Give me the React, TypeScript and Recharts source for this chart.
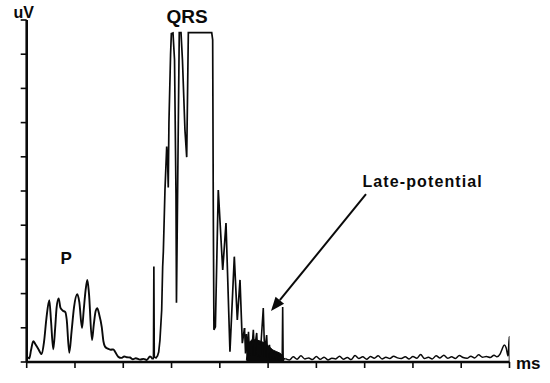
import React from 'react';
import { ComposedChart, Line, Area, XAxis, YAxis, ReferenceLine } from 'recharts';

type Pt = { t: number; v: number };
const toPts = (rows: number[][]): Pt[] => rows.map(([t, v]) => ({ t, v }));

// time in ms, amplitude in uV (arbitrary scale 0-100)
const xTicks = [0, 50, 100, 150, 200, 250, 300, 350, 400, 450, 500];
const yTicks = [0, 10, 20, 30, 40, 50, 60, 70, 80, 90, 100];

const pWave = toPts([
  [1.5, 1.5], [2.7, 1.0], [4.5, 3.5], [6.8, 6.1], [9, 5.2], [12, 3.8], [15.5, 2.3],
  [18, 6], [20.5, 13], [23.4, 18.1], [25.2, 12], [27.5, 3.7], [29.5, 10], [31, 16],
  [33.1, 18.6], [35, 15.8], [37.5, 15.0], [40, 14.6], [41.4, 12.5], [44.1, 2.7],
  [46.5, 9], [49, 16], [52.4, 19.8], [54.5, 17.5], [57.3, 9.9], [59, 15], [61, 21],
  [62.8, 24], [64.5, 20], [67.6, 6.4], [69.5, 11], [71.5, 15], [73.1, 15.7], [75, 14],
  [77.7, 10.3], [79.5, 6], [81.1, 4.5], [84, 3.9], [87, 3.6], [89.7, 3.7], [91.5, 3],
  [94.9, 1.5], [98, 1.2], [101, 1.6], [103.6, 1.4], [107, 1.3], [110, 0.8], [113, 1.1],
  [117.3, 0.7], [121, 0.9], [124.3, 0.6], [127.7, 1.6], [130.5, 0.8],
]);

const qrsComplex = toPts([
  [130.5, 0.8], [131.3, 1.2], [131.7, 27.9], [132.1, 1.5], [133.9, 1.2], [135.5, 1.8],
  [136.7, 2.9], [138.0, 6.4], [139.8, 15.2], [140.8, 27.8], [141.5, 32.2], [143.2, 50.3],
  [145.0, 63], [146.0, 58], [146.6, 51], [147.3, 70], [149.0, 90], [149.8, 96.0],
  [151.5, 96.2], [153.1, 88.3], [154.6, 49.4], [155.1, 17.3], [156.2, 47.4], [158.0, 96.3],
  [159.8, 96.3], [161.3, 88.3], [163.9, 67.8], [165.7, 59.9], [166.5, 76.6], [167.4, 96.3],
  [191.6, 96.3], [192.6, 94.2], [193.2, 47.4], [193.9, 9.4], [195.4, 10.3], [198.4, 50.3],
  [203.0, 26.9], [206.4, 40.6], [210.5, 3.0], [215.0, 30.8], [218.1, 12.3], [220.9, 24.0],
  [223.3, 5.5], [225.6, 9.9],
]);

const latePotential = toPts([
  [225.6, 9.9], [226.6, 2.5], [227.6, 8.2], [228.6, 2.0], [229.7, 8.8], [230.8, 2.2],
  [231.8, 6.0], [232.8, 1.8], [234.7, 9.4], [236.0, 2.0], [237.2, 6.5], [238.2, 8.5],
  [239.4, 1.5], [240.6, 5.5], [241.7, 1.2], [243.0, 7.0], [245.0, 15.8], [246.5, 1.5],
  [247.5, 5.5], [248.5, 7.9], [249.6, 1.2], [250.6, 4.0], [251.4, 5.0], [252.6, 0.8],
  [254.0, 3.5], [255.4, 1.0], [257, 2.8], [258.5, 0.8], [260, 2.2], [261.5, 0.6],
  [263, 1.8], [264.6, 0.6], [265.1, 16.1], [265.6, 0.8], [268, 1.0],
]);

// dense high-frequency activity drawn as a filled envelope
const lateEnvelope = toPts([
  [227.5, 0.5], [229, 5], [233, 6.5], [238, 6.5], [243, 6], [247, 5.5], [251, 4.5],
  [255, 3.5], [259, 3], [263, 2.5], [265.5, 1.5], [266.5, 0.5],
]);

const stSegment = toPts([
  [268, 1.0], [272, 0.6], [276, 1.5], [280, 0.8], [284, 1.8], [288, 0.9], [292, 1.2],
  [296, 0.7], [300, 1.6], [304, 0.8], [308, 1.4], [312, 0.6], [316, 1.1], [320, 0.9],
  [324, 1.7], [328, 0.8], [332, 1.3], [336, 0.7], [340, 1.9], [344, 1.0], [348, 1.5],
  [352, 0.8], [356, 1.6], [360, 1.1], [364, 1.8], [368, 0.9], [372, 1.4], [376, 1.0],
  [380, 1.7], [384, 1.2], [388, 1.0], [392, 1.5], [396, 0.9], [400, 1.6], [404, 1.1],
  [408, 2.2], [412, 1.0], [416, 1.4], [420, 0.9], [424, 1.8], [428, 1.2], [432, 2.0],
  [436, 1.1], [440, 1.5], [444, 1.0], [448, 1.9], [452, 1.3], [456, 1.1], [460, 1.7],
  [464, 1.2], [468, 2.1], [472, 1.4], [476, 1.6], [480, 1.3], [484, 2.0], [487, 1.5],
  [490, 2.2], [492, 3.5], [494.5, 5.0], [496.5, 4.2], [498.5, 1.8], [499.8, 7.4], [500, 0],
]);

const arrowFrom = { t: 351.4, v: 49.1 };
const arrowTo = { t: 253, v: 14.9 };

const FONT = '"Liberation Sans", Arial, sans-serif';
const INK = '#0a0a0a';

const NoTick = () => <g />;

const Arrow = (props: any) => {
  const { x1, y1, x2, y2 } = props;
  const dx = x2 - x1;
  const dy = y2 - y1;
  const len = Math.hypot(dx, dy) || 1;
  const ux = dx / len;
  const uy = dy / len;
  const hl = 14;
  const hw = 5.5;
  const bx = x2 - ux * hl;
  const by = y2 - uy * hl;
  const head = `${x2},${y2} ${bx - uy * hw},${by + ux * hw} ${bx + uy * hw},${by - ux * hw}`;
  return (
    <g>
      <line x1={x1} y1={y1} x2={bx} y2={by} stroke={INK} strokeWidth={2} />
      <polygon points={head} fill={INK} />
    </g>
  );
};

export default function App() {
  const lineProps = {
    dataKey: 'v',
    stroke: INK,
    strokeWidth: 1.9,
    dot: false,
    activeDot: false,
    isAnimationActive: false,
  } as const;

  return (
    <div style={{ position: 'absolute', left: 0, top: 0, width: 550, height: 383, background: '#fff' }}>
      <ComposedChart
        width={550}
        height={383}
        margin={{ top: 20, right: 40.5, bottom: 11, left: 16.7 }}
      >
        <XAxis
          type="number"
          dataKey="t"
          domain={[0, 500]}
          ticks={xTicks}
          height={10}
          tickSize={6}
          tick={NoTick}
          axisLine={{ stroke: INK, strokeWidth: 2.6 }}
          tickLine={{ stroke: INK, strokeWidth: 1.6 }}
          allowDataOverflow
        />
        <YAxis
          type="number"
          domain={[0, 100]}
          ticks={yTicks}
          width={10}
          tickSize={6}
          tick={NoTick}
          axisLine={{ stroke: INK, strokeWidth: 2.6 }}
          tickLine={{ stroke: INK, strokeWidth: 1.6 }}
          allowDataOverflow
        />
        <Area
          data={lateEnvelope}
          dataKey="v"
          type="linear"
          stroke={INK}
          fill={INK}
          fillOpacity={1}
          isAnimationActive={false}
          activeDot={false}
        />
        <Line {...lineProps} data={pWave} type="monotoneX" />
        <Line {...lineProps} data={qrsComplex} type="linear" strokeWidth={1.7} />
        <Line {...lineProps} data={latePotential} type="linear" strokeWidth={1.6} />
        <Line {...lineProps} data={stSegment} type="monotoneX" strokeWidth={1.5} />
        <ReferenceLine
          segment={[{ x: arrowFrom.t, y: arrowFrom.v }, { x: arrowTo.t, y: arrowTo.v }]}
          shape={Arrow}
        />
      </ComposedChart>
      <svg
        width={550}
        height={383}
        style={{ position: 'absolute', left: 0, top: 0, pointerEvents: 'none' }}
        fontFamily={FONT}
        fontWeight="bold"
        fill={INK}
      >
        <text x={13.5} y={18.3} fontSize={16}>uV</text>
        <text x={166.5} y={23} fontSize={19}>QRS</text>
        <text x={60.5} y={264.3} fontSize={17}>P</text>
        <text x={362.5} y={187} fontSize={16} letterSpacing={1.1}>Late-potential</text>
        <text x={516} y={369.3} fontSize={17}>ms</text>
      </svg>
    </div>
  );
}
